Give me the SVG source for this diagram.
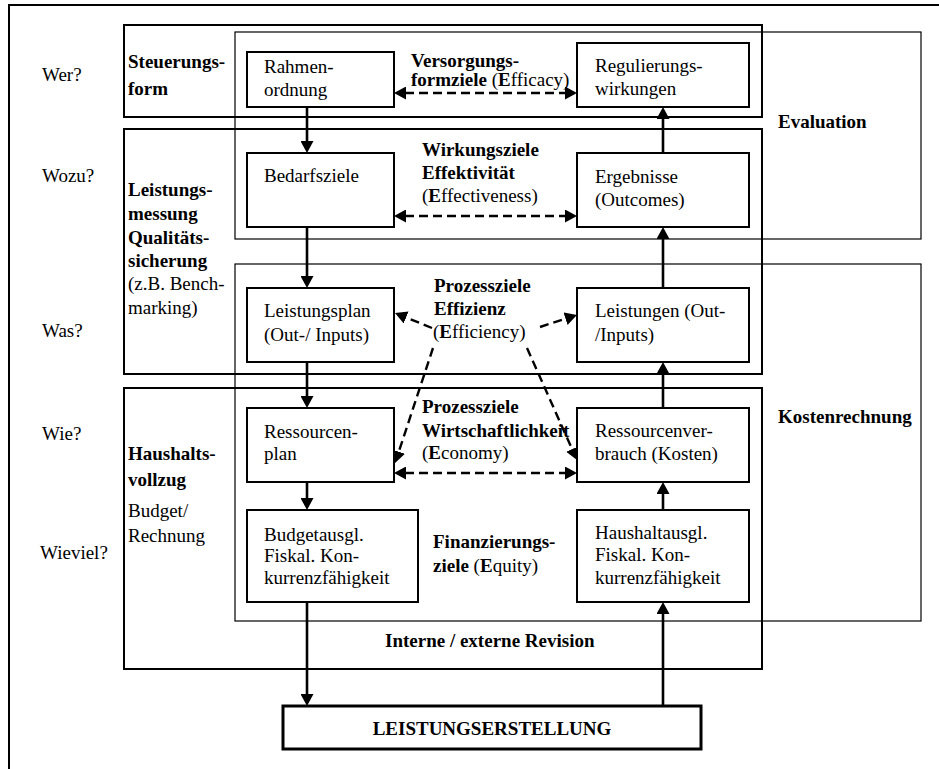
<svg xmlns="http://www.w3.org/2000/svg" width="939" height="769" viewBox="0 0 939 769">
<style>
  text { font-family: "Liberation Serif", "Times New Roman", serif; font-size: 19px; fill: #000; }
  .b { font-weight: bold; }
  .band { fill: none; stroke: #000; stroke-width: 2; }
  .col { fill: none; stroke: #000; stroke-width: 1.2; }
  .node { fill: #fff; stroke: #000; stroke-width: 2; }
  .solid { fill: none; stroke: #000; stroke-width: 2.6; marker-end: url(#ah); }
  .dash { fill: none; stroke: #000; stroke-width: 2.4; stroke-dasharray: 9 5; marker-end: url(#ah); }
  .dash2 { fill: none; stroke: #000; stroke-width: 2.4; stroke-dasharray: 9 5; marker-end: url(#ah); marker-start: url(#ah); }
</style>
<defs>
  <marker id="ah" markerUnits="userSpaceOnUse" markerWidth="13" markerHeight="13" refX="1" refY="6.5" orient="auto-start-reverse" viewBox="0 0 13 13">
    <path d="M0,0 L12,6.5 L0,13 z" fill="#000"/>
  </marker>
</defs>
<rect width="939" height="769" fill="#fff"/>

<g id="frame" fill="none" stroke="#000" stroke-width="2">
  <line x1="9" y1="5" x2="939" y2="5"/>
  <line x1="9" y1="4" x2="9" y2="769"/>
</g>

<g id="questions">
  <text x="42" y="81">Wer?</text>
  <text x="42" y="182">Wozu?</text>
  <text x="42" y="337">Was?</text>
  <text x="42" y="440">Wie?</text>
  <text x="40" y="559">Wieviel?</text>
</g>

<g id="band-steuerung">
  <rect class="band" x="124" y="25" width="638" height="92"/>
  <text class="b" x="128" y="68">Steuerungs-</text>
  <text class="b" x="128" y="95">form</text>
</g>
<g id="band-leistungsmessung">
  <rect class="band" x="124" y="129" width="638" height="245"/>
  <text class="b" x="128" y="196">Leistungs-</text>
  <text class="b" x="128" y="220">messung</text>
  <text class="b" x="128" y="244">Qualitäts-</text>
  <text class="b" x="128" y="267">sicherung</text>
  <text x="128" y="290">(z.B. Bench-</text>
  <text x="128" y="314">marking)</text>
</g>
<g id="band-haushalt">
  <rect class="band" x="124" y="388" width="638" height="281"/>
  <text class="b" x="128" y="460">Haushalts-</text>
  <text class="b" x="128" y="486">vollzug</text>
  <text x="128" y="517">Budget/</text>
  <text x="128" y="542">Rechnung</text>
  <text class="b" x="385" y="647">Interne / externe Revision</text>
</g>
<g id="col-evaluation">
  <rect class="col" x="235" y="32" width="686" height="207"/>
  <text class="b" x="778" y="128">Evaluation</text>
</g>
<g id="col-kosten">
  <rect class="col" x="235" y="264" width="686" height="357"/>
  <text class="b" x="778" y="423">Kostenrechnung</text>
</g>

<g id="goal-labels">
  <text x="411" y="67"><tspan class="b">Versorgungs-</tspan></text>
  <text x="411" y="86"><tspan class="b">formziele</tspan> (<tspan class="b">E</tspan>fficacy)</text>
  <text class="b" x="422" y="156">Wirkungsziele</text>
  <text class="b" x="422" y="179">Effektivität</text>
  <text x="422" y="202">(<tspan class="b">E</tspan>ffectiveness)</text>
  <text class="b" x="434" y="292">Prozessziele</text>
  <text class="b" x="434" y="315">Effizienz</text>
  <text x="433" y="338">(<tspan class="b">E</tspan>fficiency)</text>
  <text class="b" x="422" y="413">Prozessziele</text>
  <text class="b" x="422" y="437">Wirtschaftlichkeit</text>
  <text x="422" y="459">(<tspan class="b">E</tspan>conomy)</text>
  <text class="b" x="433" y="548">Finanzierungs-</text>
  <text x="433" y="572"><tspan class="b">ziele</tspan> (<tspan class="b">E</tspan>quity)</text>
</g>

<g id="connectors">
  <line class="solid" x1="307" y1="107" x2="307" y2="142"/>
  <line class="solid" x1="307" y1="227" x2="307" y2="277"/>
  <line class="solid" x1="307" y1="362" x2="307" y2="397"/>
  <line class="solid" x1="307" y1="482" x2="307" y2="499"/>
  <line class="solid" x1="307" y1="602" x2="307" y2="695"/>
  <line class="solid" x1="663" y1="706" x2="663" y2="613"/>
  <line class="solid" x1="663" y1="510" x2="663" y2="493"/>
  <line class="solid" x1="663" y1="408" x2="663" y2="373"/>
  <line class="solid" x1="663" y1="288" x2="663" y2="238"/>
  <line class="solid" x1="663" y1="153" x2="663" y2="118"/>
  <line class="dash2" x1="405" y1="93" x2="566" y2="93"/>
  <line class="dash2" x1="405" y1="216" x2="566" y2="216"/>
  <line class="dash2" x1="405" y1="473" x2="566" y2="473"/>
  <line class="dash" x1="432" y1="328" x2="405.2" y2="317.1"/>
  <line class="dash" x1="540" y1="327" x2="566.5" y2="318.4"/>
  <line class="dash" x1="433" y1="348" x2="398.5" y2="452.6"/>
  <line class="dash" x1="527" y1="348" x2="572.5" y2="450"/>
</g>

<g id="node-rahmenordnung">
  <rect class="node" x="247" y="52" width="147" height="55"/>
  <text x="264" y="73">Rahmen-</text>
  <text x="264" y="96">ordnung</text>
</g>
<g id="node-regulierungswirkungen">
  <rect class="node" x="577" y="43" width="172" height="64"/>
  <text x="595" y="72">Regulierungs-</text>
  <text x="595" y="95">wirkungen</text>
</g>
<g id="node-bedarfsziele">
  <rect class="node" x="247" y="153" width="147" height="74"/>
  <text x="264" y="182">Bedarfsziele</text>
</g>
<g id="node-ergebnisse">
  <rect class="node" x="577" y="153" width="172" height="74"/>
  <text x="595" y="183">Ergebnisse</text>
  <text x="595" y="206">(Outcomes)</text>
</g>
<g id="node-leistungsplan">
  <rect class="node" x="247" y="288" width="147" height="74"/>
  <text x="264" y="317">Leistungsplan</text>
  <text x="264" y="341">(Out-/ Inputs)</text>
</g>
<g id="node-leistungen">
  <rect class="node" x="577" y="288" width="172" height="74"/>
  <text x="595" y="317">Leistungen (Out-</text>
  <text x="595" y="341">/Inputs)</text>
</g>
<g id="node-ressourcenplan">
  <rect class="node" x="247" y="408" width="147" height="74"/>
  <text x="264" y="438">Ressourcen-</text>
  <text x="264" y="460">plan</text>
</g>
<g id="node-ressourcenverbrauch">
  <rect class="node" x="577" y="408" width="172" height="74"/>
  <text x="595" y="437">Ressourcenver-</text>
  <text x="595" y="460">brauch (Kosten)</text>
</g>
<g id="node-budgetausgl">
  <rect class="node" x="247" y="510" width="171" height="92"/>
  <text x="264" y="541">Budgetausgl.</text>
  <text x="264" y="562">Fiskal. Kon-</text>
  <text x="264" y="584">kurrenzfähigkeit</text>
</g>
<g id="node-haushaltausgl">
  <rect class="node" x="577" y="510" width="172" height="92"/>
  <text x="595" y="539">Haushaltausgl.</text>
  <text x="595" y="561">Fiskal. Kon-</text>
  <text x="595" y="584">kurrenzfähigkeit</text>
</g>
<g id="node-leistungserstellung">
  <rect x="283" y="706" width="418" height="43" fill="#fff" stroke="#000" stroke-width="3"/>
  <text class="b" x="492" y="735" text-anchor="middle">LEISTUNGSERSTELLUNG</text>
</g>
</svg>
